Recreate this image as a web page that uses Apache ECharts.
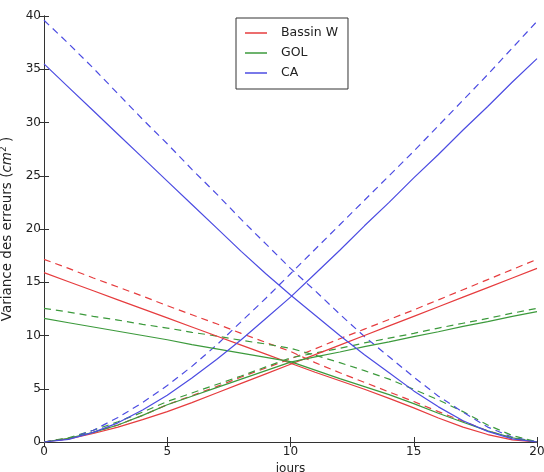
<!DOCTYPE html>
<html>
<head>
<meta charset="utf-8">
<script src="https://cdn.jsdelivr.net/npm/echarts@6/dist/echarts.min.js"></script>
<style>html,body{margin:0;padding:0;background:#fff}#c{width:544px;height:472px}</style>
</head>
<body>
<div id="c"></div>
<script>
const days = [0,1,2,3,4,5,6,7,8,9,10,11,12,13,14,15,16,17,18,19,20];
const xTicks = [0,5,10,15,20];
const yTicks = [0,5,10,15,20,25,30,35,40];
const legendNames = ['Bassin W','GOL','CA'];

// Solid lines (falling / rising)
const bassinFall = [15.9,15.05,14.2,13.35,12.5,11.65,10.8,9.95,9.1,8.25,7.4,6.55,5.75,4.95,4.1,3.2,2.25,1.4,0.7,0.2,0];
const bassinRise = [0,0.3,0.8,1.4,2.1,2.85,3.7,4.6,5.5,6.4,7.3,8.2,9.1,10.0,10.9,11.8,12.7,13.6,14.5,15.4,16.3];
const golFall = [11.6,11.2,10.8,10.4,10.0,9.6,9.15,8.75,8.35,7.95,7.55,6.75,5.95,5.2,4.45,3.6,2.7,1.85,1.05,0.4,0];
const golRise = [0,0.35,0.9,1.6,2.5,3.5,4.3,5.1,5.9,6.7,7.5,8.0,8.45,8.95,9.4,9.9,10.35,10.85,11.3,11.8,12.25];
const caFall = [35.5,33.3,31.1,28.9,26.7,24.5,22.3,20.1,17.9,15.8,13.8,11.9,10.0,8.2,6.5,4.8,3.3,2.0,1.0,0.3,0];
const caRise = [0,0.25,0.9,1.8,3.0,4.4,6.0,7.75,9.6,11.6,13.6,15.8,18.0,20.3,22.5,24.8,27.0,29.3,31.5,33.8,36.0];

// Dashed lines (falling / rising)
const bassinFallD = [17.15,16.3,15.4,14.55,13.7,12.8,11.95,11.1,10.2,9.35,8.5,7.45,6.5,5.6,4.7,3.8,2.85,1.95,1.05,0.35,0];
const bassinRiseD = [0,0.35,0.9,1.6,2.5,3.5,4.35,5.2,6.1,6.95,7.8,8.75,9.7,10.6,11.5,12.4,13.35,14.3,15.25,16.2,17.15];
const golFallD = [12.55,12.2,11.8,11.45,11.05,10.7,10.3,9.95,9.55,9.2,8.8,8.15,7.45,6.7,5.9,4.95,3.95,2.85,1.6,0.6,0];
const golRiseD = [0,0.4,1.1,1.9,2.8,3.8,4.6,5.4,6.2,7.05,7.9,8.35,8.8,9.3,9.75,10.2,10.7,11.15,11.6,12.1,12.55];
const caFallD = [39.6,37.4,35.1,32.7,30.3,28.0,25.6,23.3,20.9,18.6,16.3,14.2,12.0,9.9,8.0,6.1,4.3,2.8,1.4,0.45,0];
const caRiseD = [0,0.3,1.1,2.3,3.7,5.3,7.1,9.1,11.3,13.5,15.8,18.1,20.4,22.7,25.0,27.3,29.7,32.1,34.5,37.0,39.5];

const RED = '#e63c3e', GREEN = '#3c9a3c', BLUE = '#4c4ce2';
const pts = arr => days.map((d,i)=>[d,arr[i]]);

function mk(name, arr, color, dashed){
  return {
    name, type:'line', data: pts(arr), showSymbol:false, symbol:'none',
    smooth:false, animation:false, silent:true,
    lineStyle:{color, width:1.2, type: dashed ? [7,5] : 'solid'},
    itemStyle:{color}, z: dashed ? 2 : 3
  };
}

const series = [
  mk('Bassin W', bassinFall, RED, false),
  mk('Bassin W', bassinRise, RED, false),
  mk('Bassin W ', bassinFallD, RED, true),
  mk('Bassin W ', bassinRiseD, RED, true),
  mk('GOL', golFall, GREEN, false),
  mk('GOL', golRise, GREEN, false),
  mk('GOL ', golFallD, GREEN, true),
  mk('GOL ', golRiseD, GREEN, true),
  mk('CA', caFall, BLUE, false),
  mk('CA', caRise, BLUE, false),
  mk('CA ', caFallD, BLUE, true),
  mk('CA ', caRiseD, BLUE, true)
];

const FONT = 'DejaVu Sans';
const axisLine = {show:true, lineStyle:{color:'#333', width:1}};
const axisTick = {show:true, inside:true, length:5, lineStyle:{color:'#333'}};

const chart = echarts.init(document.getElementById('c'), null, {renderer:'canvas'});
chart.setOption({
  animation:false,
  backgroundColor:'#fff',
  grid:{left:44, top:16, width:493, height:426, containLabel:false, outerBoundsMode:'none'},
  legend:{
    data: legendNames.map(n=>({name:n})),
    orient:'vertical', left:236, top:18,
    itemWidth:22, itemHeight:1.5, icon:'rect', itemGap:6,
    padding:[8,10,9,9],
    backgroundColor:'#fff', borderColor:'#333', borderWidth:1, borderRadius:0,
    textStyle:{fontFamily:FONT, fontSize:12.5, color:'#222', lineHeight:14, padding:[0,0,0,9]},
    selectedMode:false
  },
  xAxis:[
    {type:'value', min:0, max:20, interval:5, position:'bottom',
     name:'jours', nameLocation:'middle', nameGap:21,
     nameTextStyle:{fontFamily:FONT, fontSize:12, color:'#222'},
     axisLine, axisTick, splitLine:{show:false},
     axisLabel:{fontFamily:FONT, fontSize:12, color:'#222', margin:4,
       formatter: v => xTicks.includes(v) ? String(v) : ''}},
    {type:'value', min:0, max:20, interval:5, position:'top',
     axisLine, axisTick, splitLine:{show:false}, axisLabel:{show:false}}
  ],
  yAxis:[
    {type:'value', min:0, max:40, interval:5, position:'left',
     name:'{a|Variance des erreurs (}{b|cm}{c|2}{a| )}', nameLocation:'middle', nameGap:22,
     nameTextStyle:{fontFamily:FONT, fontSize:13.5, color:'#222',
       rich:{a:{fontFamily:FONT, fontSize:13.5, color:'#222'},
             b:{fontFamily:FONT, fontSize:13.5, fontStyle:'italic', color:'#222'},
             c:{fontFamily:FONT, fontSize:9, color:'#222', verticalAlign:'top', padding:[0,0,8,0]}}},
     axisLine, axisTick, splitLine:{show:false},
     axisLabel:{fontFamily:FONT, fontSize:12, color:'#222', margin:3,
       formatter: v => yTicks.includes(v) ? String(v) : ''}},
    {type:'value', min:0, max:40, interval:5, position:'right',
     axisLine, axisTick, splitLine:{show:false}, axisLabel:{show:false}}
  ],
  series
});
</script>
</body>
</html>
